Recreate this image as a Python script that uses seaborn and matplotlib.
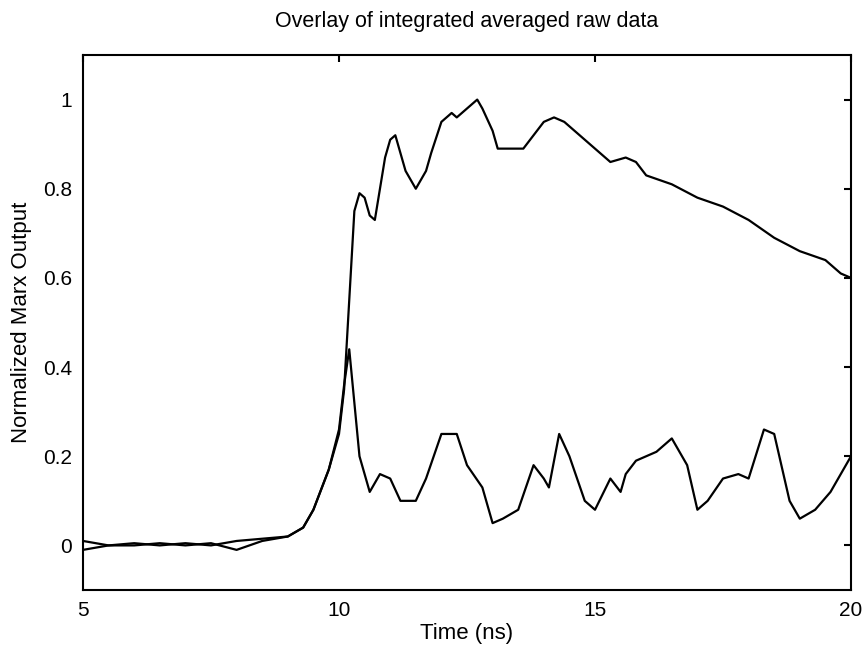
import matplotlib
matplotlib.use("Agg")
import matplotlib.pyplot as plt
import seaborn as sns
import pandas as pd

tA = [5, 5.5, 6, 6.5, 7, 7.5, 8, 8.5, 9, 9.3, 9.5, 9.8, 10, 10.1, 10.2, 10.3, 10.4, 10.5, 10.6, 10.7, 10.8, 10.9, 11, 11.1, 11.2, 11.3, 11.5, 11.7, 11.8, 12, 12.2, 12.3, 12.4, 12.6, 12.7, 12.8, 13, 13.1, 13.3, 13.6, 13.8, 14, 14.2, 14.4, 14.6, 15, 15.3, 15.6, 15.8, 16, 16.5, 17, 17.5, 18, 18.5, 19, 19.5, 19.8, 20]
yA = [0.01, 0.0, 0.0, 0.005, 0.0, 0.005, -0.01, 0.01, 0.02, 0.04, 0.08, 0.17, 0.25, 0.35, 0.55, 0.75, 0.79, 0.78, 0.74, 0.73, 0.80, 0.87, 0.91, 0.92, 0.88, 0.84, 0.80, 0.84, 0.88, 0.95, 0.97, 0.96, 0.97, 0.99, 1.0, 0.98, 0.93, 0.89, 0.89, 0.89, 0.92, 0.95, 0.96, 0.95, 0.93, 0.89, 0.86, 0.87, 0.86, 0.83, 0.81, 0.78, 0.76, 0.73, 0.69, 0.66, 0.64, 0.61, 0.60]
tB = [5, 5.5, 6, 6.5, 7, 7.5, 8, 8.5, 9, 9.3, 9.5, 9.8, 10, 10.1, 10.2, 10.3, 10.4, 10.6, 10.8, 11, 11.2, 11.5, 11.7, 12, 12.3, 12.5, 12.8, 13, 13.2, 13.5, 13.8, 14, 14.1, 14.3, 14.5, 14.8, 15, 15.3, 15.5, 15.6, 15.8, 16, 16.2, 16.5, 16.8, 17, 17.2, 17.5, 17.8, 18, 18.3, 18.5, 18.8, 19, 19.3, 19.6, 20]
yB = [-0.01, 0.0, 0.005, 0.0, 0.005, 0.0, 0.01, 0.015, 0.02, 0.04, 0.08, 0.17, 0.26, 0.36, 0.44, 0.32, 0.20, 0.12, 0.16, 0.15, 0.10, 0.10, 0.15, 0.25, 0.25, 0.18, 0.13, 0.05, 0.06, 0.08, 0.18, 0.15, 0.13, 0.25, 0.20, 0.10, 0.08, 0.15, 0.12, 0.16, 0.19, 0.20, 0.21, 0.24, 0.18, 0.08, 0.10, 0.15, 0.16, 0.15, 0.26, 0.25, 0.10, 0.06, 0.08, 0.12, 0.20]

sns.set_style("white")
plt.rcParams['font.family'] = ['Liberation Sans', 'DejaVu Sans']
plt.rcParams['text.color'] = 'black'
plt.rcParams['axes.labelcolor'] = 'black'
fig = plt.figure(figsize=(8.65, 6.5), dpi=100)
ax = fig.add_axes([83/865, 1 - 590/650, (851-83)/865, (590-55)/650])
dfA = pd.DataFrame({"t": tA, "y": yA})
dfB = pd.DataFrame({"t": tB, "y": yB})
sns.lineplot(data=dfA, x="t", y="y", ax=ax, color="black", lw=1.6)
sns.lineplot(data=dfB, x="t", y="y", ax=ax, color="black", lw=1.6)
ax.set_xlim(5, 20)
ax.set_ylim(-0.1, 1.1)
ax.set_xticks([5, 10, 15, 20])
ax.set_xticklabels(["5", "10", "15", "20"])
ax.set_yticks([0, 0.2, 0.4, 0.6, 0.8, 1])
ax.set_yticklabels(["0", "0.2", "0.4", "0.6", "0.8", "1"])
ax.tick_params(direction="in", length=5, width=1.5, labelsize=15, top=True, right=True, pad=8, colors="black")
for s in ax.spines.values():
    s.set_linewidth(1.5)
    s.set_color("black")
ax.set_xlabel("Time (ns)", fontsize=16, labelpad=2, color="black")
ax.set_ylabel("Normalized Marx Output", fontsize=16, labelpad=8, color="black")
ax.set_title("Overlay of integrated averaged raw data", fontsize=15.5, pad=20, color="black")
fig.savefig("out.png", dpi=100)
